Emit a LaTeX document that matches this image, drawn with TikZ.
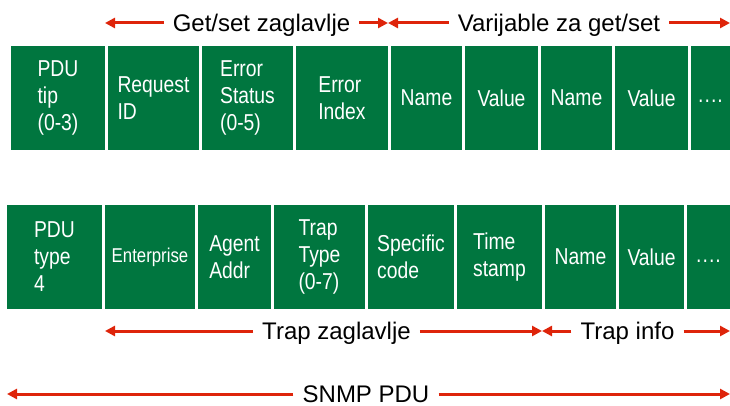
\documentclass[tikz,border=0pt]{standalone}
\usepackage{fontspec}
\setmainfont{Liberation Sans}
\newfontfamily\cellfont{Liberation Sans}[FakeStretch=0.84]
\usetikzlibrary{positioning,arrows.meta}
\definecolor{pdugreen}{RGB}{0,118,63}
\definecolor{pdured}{RGB}{222,36,10}

\tikzset{
  cell/.style={fill=pdugreen, text=white, minimum height=104pt, inner sep=0pt, outer sep=0pt,
    align=left, font=\cellfont\fontsize{23}{27}\selectfont},
  dots/.style={text height=20pt, text depth=0pt},
  lbl/.style={font=\fontsize{24}{28}\selectfont, text height=17.2pt, text depth=0pt,
    inner ysep=0pt, inner xsep=9pt},
  span/.style={draw=pdured, line width=3pt, -{Triangle[length=10pt,width=10pt]}},
}

\begin{document}
\begin{tikzpicture}[x=1pt, y=-1pt]
  \useasboundingbox (0,0) rectangle (730,406);

  % get/set PDU
  \node[cell, minimum width=94pt, anchor=north west] (t1) at (11,46) {PDU\\tip\\(0-3)};
  \node[cell, minimum width=91pt, right=3pt of t1] (t2) {Request\\ID};
  \node[cell, minimum width=91pt, right=3pt of t2] (t3) {Error\\Status\\(0-5)};
  \node[cell, minimum width=92pt, right=3pt of t3] (t4) {Error\\Index};
  \node[cell, minimum width=71pt, right=3pt of t4] (t5) {Name};
  \node[cell, minimum width=73pt, right=3pt of t5] (t6) {Value};
  \node[cell, minimum width=71pt, right=3pt of t6] (t7) {Name};
  \node[cell, minimum width=73pt, right=3pt of t7] (t8) {Value};
  \node[cell, dots, minimum width=39pt, right=3pt of t8] (t9) {····};

  % trap PDU
  \node[cell, minimum width=95pt, anchor=north west] (b1) at (7,205) {PDU\\type\\4};
  \node[cell, minimum width=90pt, right=3pt of b1, font=\cellfont\fontsize{20}{24}\selectfont] (b2) {Enterprise};
  \node[cell, minimum width=73pt, right=3pt of b2] (b3) {Agent\\Addr};
  \node[cell, minimum width=91pt, right=3pt of b3] (b4) {Trap\\Type\\(0-7)};
  \node[cell, minimum width=86pt, right=3pt of b4] (b5) {Specific\\code};
  \node[cell, minimum width=85pt, right=3pt of b5] (b6) {Time\\stamp};
  \node[cell, minimum width=71pt, right=3pt of b6] (b7) {Name};
  \node[cell, minimum width=65pt, right=3pt of b7] (b8) {Value};
  \node[cell, dots, minimum width=43pt, right=3pt of b8] (b9) {····};

  \node[lbl] (getset) at (261.5,23) {Get/set zaglavlje};
  \node[lbl] (vars) at (559,23) {Varijable za get/set};
  \node[lbl] (trapz) at (336.5,331) {Trap zaglavlje};
  \node[lbl] (trapi) at (627.5,331) {Trap info};
  \node[lbl] (snmp) at (366,394) {SNMP PDU};

  \draw[span] (getset.west) -- (getset.west -| t1.east);
  \draw[span] (getset.east) -- (getset.east -| t4.east);
  \draw[span] (vars.west) -- (vars.west -| t4.east);
  \draw[span] (vars.east) -- (vars.east -| t9.east);
  \draw[span] (trapz.west) -- (trapz.west -| b2.west);
  \draw[span] (trapz.east) -- (trapz.east -| b6.east);
  \draw[span] (trapi.west) -- (trapi.west -| b6.east);
  \draw[span] (trapi.east) -- (trapi.east -| b9.east);
  \draw[span] (snmp.west) -- (snmp.west -| b1.west);
  \draw[span] (snmp.east) -- (snmp.east -| b9.east);
\end{tikzpicture}
\end{document}
